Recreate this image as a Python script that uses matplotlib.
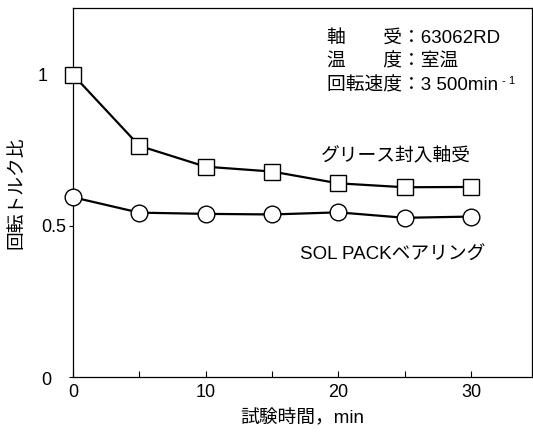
import matplotlib.pyplot as plt
from matplotlib.ticker import MultipleLocator
from matplotlib.transforms import ScaledTranslation

plt.rcParams['font.family'] = ['Liberation Sans', 'Noto Sans CJK JP']

# data
time_min = [0, 5, 10, 15, 20, 25, 30]
grease = [1.0, 0.765, 0.696, 0.680, 0.641, 0.628, 0.629]
solpack = [0.595, 0.544, 0.540, 0.538, 0.545, 0.527, 0.531]

fig = plt.figure(figsize=(5.33, 4.34), dpi=100)
ax = fig.add_axes([0.137, 0.131, 0.861, 0.850])

ax.plot(time_min, grease, color='black', lw=1.6, marker='s', ms=11.5,
        mfc='white', mec='black', mew=1.0, zorder=3, clip_on=False)
ax.plot(time_min, solpack, color='black', lw=1.6, marker='o', ms=12,
        mfc='white', mec='black', mew=1.0, zorder=3, clip_on=False)

ax.set_xlim(0, 34.6)
ax.set_ylim(0, 1.22)
ax.set_xticks([0, 10, 20, 30])
ax.xaxis.set_minor_locator(MultipleLocator(5))
ax.set_yticks([0, 0.5, 1])
ax.set_yticklabels(['0', '0.5', '1'])
ax.tick_params(axis='x', direction='in', length=4, width=0.8, labelsize=13, pad=5)
ax.tick_params(axis='x', which='minor', direction='in', length=4, width=0.8)
ax.tick_params(axis='y', direction='out', length=3, width=0.8, labelsize=13, pad=2)
for s in ax.spines.values():
    s.set_linewidth(0.9)

# the "0" and "1" labels sit further left in the original
shifts = {'0': (-0.15, -0.01), '1': (-0.18, 0)}
for lab in ax.get_yticklabels():
    dx, dy = shifts.get(lab.get_text(), (0, 0))
    lab.set_transform(lab.get_transform() + ScaledTranslation(dx, dy, fig.dpi_scale_trans))

ax.set_xlabel('試験時間，min', fontsize=13.5, labelpad=6)
ax.set_ylabel('回転トルク比', fontsize=13.5, va='center')
ax.yaxis.set_label_coords(-0.122, 0.5)

fs = 13.5
ax.text(0.553, 0.919, '軸\u3000\u3000受：63062RD', transform=ax.transAxes,
        fontsize=fs, va='center')
ax.text(0.553, 0.854, '温\u3000\u3000度：室温', transform=ax.transAxes,
        fontsize=fs, va='center')
t = ax.text(0.553, 0.789, '回転速度：3 500min', transform=ax.transAxes,
            fontsize=fs, va='center')
ax.annotate('- 1', xy=(1, 0.8), xycoords=t, xytext=(3, 0),
            textcoords='offset points', fontsize=8, va='center')

ax.text(0.540, 0.599, 'グリース封入軸受', transform=ax.transAxes,
        fontsize=fs, va='center')
ax.text(0.495, 0.331, 'SOL PACKベアリング', transform=ax.transAxes,
        fontsize=fs, va='center')

fig.savefig('out.png', dpi=100)
